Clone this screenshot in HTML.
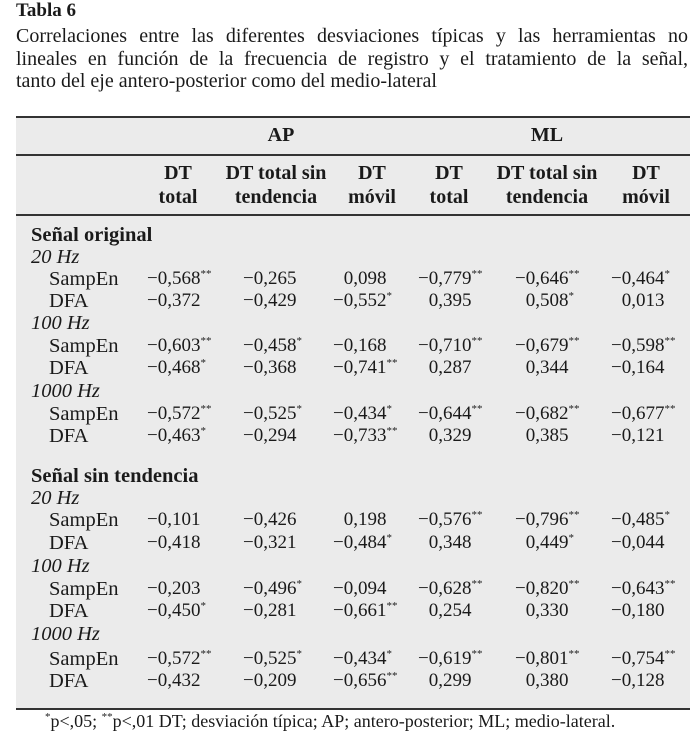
<!DOCTYPE html>
<html><head><meta charset="utf-8"><style>
body{margin:0;width:700px;height:740px;background:#fff;font-family:"Liberation Serif",serif;color:#1a1a1a;position:relative;overflow:hidden}
.a{position:absolute;white-space:nowrap;font-size:19px;line-height:22px}
.b{font-weight:bold}
.i{font-style:italic}
.h{visibility:hidden}
.l{font-size:20.5px}
.hd{font-size:20px;line-height:24px}
sup{font-size:11px;vertical-align:7px;line-height:0}
.c{text-align:center;transform:translateX(-50%)}
.cl{position:absolute;left:16px;width:672px;font-size:20px;line-height:22px;text-align:justify;text-align-last:justify;white-space:nowrap}
</style></head><body>
<div class="a b" style="left:16px;top:0;font-size:19px">Tabla 6</div>
<div>
<div class="cl" style="top:25px">Correlaciones entre las diferentes desviaciones típicas y las herramientas no</div>
<div class="cl" style="top:48px">lineales en función de la frecuencia de registro y el tratamiento de la señal,</div>
<div class="cl" style="top:70px;text-align-last:left">tanto del eje antero-posterior como del medio-lateral</div>
</div>
<div style="position:absolute;left:16px;top:116px;width:674px;height:590px;background:#ebebeb;border-top:2px solid #333;border-bottom:2px solid #333"></div>
<div style="position:absolute;left:16px;top:154px;width:674px;height:2px;background:#333"></div>
<div style="position:absolute;left:16px;top:214px;width:674px;height:2px;background:#333"></div>
<div class="a b c hd" style="left:281px;top:123px">AP</div>
<div class="a b c hd" style="left:547px;top:123px">ML</div>
<div id="t"></div>
<div class="a" style="left:45px;top:710px;font-size:18px"><sup>*</sup>p&lt;,05; <sup>**</sup>p&lt;,01 DT; desviación típica; AP; antero-posterior; ML; medio-lateral.</div>
<script>
const colHeads=[["DT","total"],["DT total sin","tendencia"],["DT","móvil"],["DT","total"],["DT total sin","tendencia"],["DT","móvil"]];
const headCenters=[178,276,372,449,547,646];
const colLeft=[147,243,333,418,515,611];
const rows=[
["s","Señal original",235],["f","20 Hz",257],
["r","SampEn",279,["−0,568**","−0,265","0,098","−0,779**","−0,646**","−0,464*"]],
["r","DFA",301,["−0,372","−0,429","−0,552*","0,395","0,508*","0,013"]],
["f","100 Hz",323],
["r","SampEn",346,["−0,603**","−0,458*","−0,168","−0,710**","−0,679**","−0,598**"]],
["r","DFA",368,["−0,468*","−0,368","−0,741**","0,287","0,344","−0,164"]],
["f","1000 Hz",391],
["r","SampEn",414,["−0,572**","−0,525*","−0,434*","−0,644**","−0,682**","−0,677**"]],
["r","DFA",436,["−0,463*","−0,294","−0,733**","0,329","0,385","−0,121"]],
["s","Señal sin tendencia",476],["f","20 Hz",498],
["r","SampEn",520,["−0,101","−0,426","0,198","−0,576**","−0,796**","−0,485*"]],
["r","DFA",543,["−0,418","−0,321","−0,484*","0,348","0,449*","−0,044"]],
["f","100 Hz",566],
["r","SampEn",589,["−0,203","−0,496*","−0,094","−0,628**","−0,820**","−0,643**"]],
["r","DFA",611,["−0,450*","−0,281","−0,661**","0,254","0,330","−0,180"]],
["f","1000 Hz",634],
["r","SampEn",659,["−0,572**","−0,525*","−0,434*","−0,619**","−0,801**","−0,754**"]],
["r","DFA",681,["−0,432","−0,209","−0,656**","0,299","0,380","−0,128"]]
];
const t=document.getElementById('t');
function add(cls,x,y,html,name){const d=document.createElement('div');d.className='a '+cls;d.style.left=x+'px';d.style.top=(y-11)+'px';d.innerHTML=html;


t.appendChild(d);}
colHeads.forEach((h,i)=>add('b c hd',headCenters[i],172,h[0]+'<br>'+h[1],'column-header-'+(i+1)));
rows.forEach((r,k)=>{
 if(r[0]=='s')add('b l',31,r[2],r[1],'section-label');
 else if(r[0]=='f')add('i l',31,r[2],r[1],'frequency-label');
 else{add('l',49,r[2],r[1],'row-label-'+r[1].toLowerCase());
  r[3].forEach((v,i)=>{let m=v.match(/^(−?)([0-9,]+)(\**)$/);
   let html=(m[1]?'−':'<span class="h">−</span>')+m[2]+(m[3]?'<sup>'+m[3]+'</sup>':'');
   add('',colLeft[i],r[2],html,'cell-value');});}
});
</script>
</body></html>
